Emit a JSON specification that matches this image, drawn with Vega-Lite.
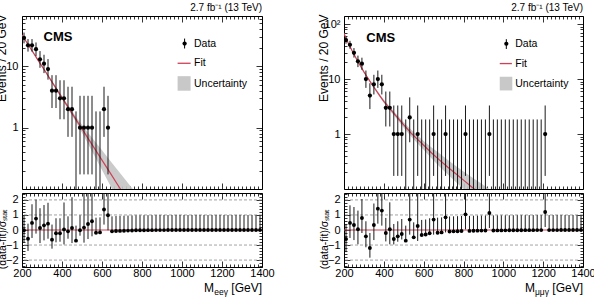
{
  "$schema": "https://vega.github.io/schema/vega-lite/v6.json",
  "padding": {"left": -6, "top": 2, "right": 0, "bottom": 0},
  "autosize": {"type": "pad"},
  "columns": 2,
  "spacing": {"row": 4, "column": 82},
  "align": "each",
  "bounds": "flush",
  "config": {
    "font": "Liberation Sans",
    "view": {"stroke": "black", "strokeWidth": 1},
    "axis": {"grid": false, "domain": false, "tickColor": "black", "tickWidth": 0.8, "labelColor": "black", "labelFontSize": 11, "titleColor": "black", "titleFontWeight": "normal", "labelFlush": false, "labelOverlap": false, "labelBound": false},
    "title": {"color": "black", "fontWeight": "normal"},
    "text": {"color": "black"}
  },
  "datasets": {
    "ptsL": [
      {"M": 210, "n": 29, "lo": 23.65, "hi": 35.44},
      {"M": 230, "n": 22, "lo": 17.35, "hi": 27.76},
      {"M": 250, "n": 22, "lo": 17.35, "hi": 27.76},
      {"M": 270, "n": 19, "lo": 14.68, "hi": 24.43},
      {"M": 290, "n": 13, "lo": 9.44, "hi": 17.69},
      {"M": 310, "n": 11, "lo": 7.74, "hi": 15.41},
      {"M": 330, "n": 9, "lo": 6.06, "hi": 13.1},
      {"M": 350, "n": 4, "lo": 2.09, "hi": 7.16},
      {"M": 370, "n": 4, "lo": 2.09, "hi": 7.16},
      {"M": 390, "n": 3, "lo": 1.37, "hi": 5.92},
      {"M": 410, "n": 3, "lo": 1.37, "hi": 5.92},
      {"M": 430, "n": 2, "lo": 0.708, "hi": 4.64},
      {"M": 450, "n": 2, "lo": 0.708, "hi": 4.64},
      {"M": 470, "n": 0, "lo": 0.001, "hi": 1.84},
      {"M": 490, "n": 1, "lo": 0.173, "hi": 3.3},
      {"M": 510, "n": 1, "lo": 0.173, "hi": 3.3},
      {"M": 530, "n": 1, "lo": 0.173, "hi": 3.3},
      {"M": 550, "n": 1, "lo": 0.173, "hi": 3.3},
      {"M": 570, "n": 0, "lo": 0.001, "hi": 1.84},
      {"M": 590, "n": 0, "lo": 0.001, "hi": 1.84},
      {"M": 610, "n": 2, "lo": 0.708, "hi": 4.64},
      {"M": 630, "n": 1, "lo": 0.173, "hi": 3.3}
    ],
    "ptsR": [
      {"M": 210, "n": 51, "lo": 43.88, "hi": 59.19},
      {"M": 230, "n": 42, "lo": 35.55, "hi": 49.53},
      {"M": 250, "n": 30, "lo": 24.56, "hi": 36.54},
      {"M": 270, "n": 21, "lo": 16.46, "hi": 26.65},
      {"M": 290, "n": 19, "lo": 14.68, "hi": 24.43},
      {"M": 310, "n": 10, "lo": 6.9, "hi": 14.27},
      {"M": 330, "n": 5, "lo": 2.84, "hi": 8.38},
      {"M": 350, "n": 8, "lo": 5.24, "hi": 11.94},
      {"M": 370, "n": 10, "lo": 6.9, "hi": 14.27},
      {"M": 390, "n": 8, "lo": 5.24, "hi": 11.94},
      {"M": 410, "n": 3, "lo": 1.37, "hi": 5.92},
      {"M": 430, "n": 3, "lo": 1.37, "hi": 5.92},
      {"M": 450, "n": 1, "lo": 0.173, "hi": 3.3},
      {"M": 470, "n": 1, "lo": 0.173, "hi": 3.3},
      {"M": 490, "n": 1, "lo": 0.173, "hi": 3.3},
      {"M": 510, "n": 0, "lo": 0.001, "hi": 1.84},
      {"M": 530, "n": 2, "lo": 0.708, "hi": 4.64},
      {"M": 550, "n": 0, "lo": 0.001, "hi": 1.84},
      {"M": 570, "n": 1, "lo": 0.173, "hi": 3.3},
      {"M": 590, "n": 0, "lo": 0.001, "hi": 1.84},
      {"M": 610, "n": 0, "lo": 0.001, "hi": 1.84},
      {"M": 630, "n": 0, "lo": 0.001, "hi": 1.84},
      {"M": 650, "n": 1, "lo": 0.173, "hi": 3.3},
      {"M": 670, "n": 0, "lo": 0.001, "hi": 1.84},
      {"M": 690, "n": 0, "lo": 0.001, "hi": 1.84},
      {"M": 710, "n": 1, "lo": 0.173, "hi": 3.3},
      {"M": 730, "n": 0, "lo": 0.001, "hi": 1.84},
      {"M": 750, "n": 0, "lo": 0.001, "hi": 1.84},
      {"M": 770, "n": 0, "lo": 0.001, "hi": 1.84},
      {"M": 790, "n": 0, "lo": 0.001, "hi": 1.84},
      {"M": 810, "n": 1, "lo": 0.173, "hi": 3.3},
      {"M": 830, "n": 0, "lo": 0.001, "hi": 1.84},
      {"M": 850, "n": 0, "lo": 0.001, "hi": 1.84},
      {"M": 870, "n": 0, "lo": 0.001, "hi": 1.84},
      {"M": 890, "n": 0, "lo": 0.001, "hi": 1.84},
      {"M": 910, "n": 0, "lo": 0.001, "hi": 1.84},
      {"M": 930, "n": 1, "lo": 0.173, "hi": 3.3},
      {"M": 950, "n": 0, "lo": 0.001, "hi": 1.84},
      {"M": 970, "n": 0, "lo": 0.001, "hi": 1.84},
      {"M": 990, "n": 0, "lo": 0.001, "hi": 1.84},
      {"M": 1010, "n": 0, "lo": 0.001, "hi": 1.84},
      {"M": 1030, "n": 0, "lo": 0.001, "hi": 1.84},
      {"M": 1050, "n": 0, "lo": 0.001, "hi": 1.84},
      {"M": 1070, "n": 0, "lo": 0.001, "hi": 1.84},
      {"M": 1090, "n": 0, "lo": 0.001, "hi": 1.84},
      {"M": 1110, "n": 0, "lo": 0.001, "hi": 1.84},
      {"M": 1130, "n": 0, "lo": 0.001, "hi": 1.84},
      {"M": 1150, "n": 0, "lo": 0.001, "hi": 1.84},
      {"M": 1170, "n": 0, "lo": 0.001, "hi": 1.84},
      {"M": 1190, "n": 0, "lo": 0.001, "hi": 1.84},
      {"M": 1210, "n": 1, "lo": 0.173, "hi": 3.3}
    ],
    "fitL": [
      {"M": 200, "f": 32.4, "lo": 31.6, "hi": 33.1},
      {"M": 240, "f": 20.2, "lo": 19.7, "hi": 20.8},
      {"M": 280, "f": 12.6, "lo": 12.2, "hi": 13.1},
      {"M": 320, "f": 7.91, "lo": 7.6, "hi": 8.22},
      {"M": 360, "f": 4.94, "lo": 4.71, "hi": 5.19},
      {"M": 400, "f": 3.09, "lo": 2.91, "hi": 3.28},
      {"M": 440, "f": 1.93, "lo": 1.79, "hi": 2.09},
      {"M": 480, "f": 1.21, "lo": 1.08, "hi": 1.36},
      {"M": 520, "f": 0.755, "lo": 0.628, "hi": 0.908},
      {"M": 560, "f": 0.472, "lo": 0.358, "hi": 0.622},
      {"M": 600, "f": 0.295, "lo": 0.204, "hi": 0.427},
      {"M": 640, "f": 0.185, "lo": 0.116, "hi": 0.292},
      {"M": 680, "f": 0.115, "lo": 0.0664, "hi": 0.2},
      {"M": 720, "f": 0.0721, "lo": 0.0378, "hi": 0.137},
      {"M": 760, "f": 0.0452, "lo": 0.0216, "hi": 0.0942}
    ],
    "fitR": [
      {"M": 200, "f": 67.6, "lo": 66.1, "hi": 69.2},
      {"M": 220, "f": 46.2, "lo": 45.1, "hi": 47.4},
      {"M": 240, "f": 33.0, "lo": 32.0, "hi": 34.0},
      {"M": 260, "f": 24.2, "lo": 23.5, "hi": 24.9},
      {"M": 280, "f": 18.0, "lo": 17.3, "hi": 18.7},
      {"M": 300, "f": 13.5, "lo": 13.0, "hi": 14.0},
      {"M": 320, "f": 10.35, "lo": 9.89, "hi": 10.8},
      {"M": 340, "f": 8.04, "lo": 7.64, "hi": 8.46},
      {"M": 360, "f": 6.31, "lo": 5.96, "hi": 6.68},
      {"M": 380, "f": 4.95, "lo": 4.64, "hi": 5.28},
      {"M": 400, "f": 3.94, "lo": 3.67, "hi": 4.22},
      {"M": 420, "f": 3.2, "lo": 2.96, "hi": 3.46},
      {"M": 440, "f": 2.63, "lo": 2.42, "hi": 2.86},
      {"M": 460, "f": 2.16, "lo": 1.97, "hi": 2.37},
      {"M": 480, "f": 1.78, "lo": 1.6, "hi": 1.97},
      {"M": 500, "f": 1.46, "lo": 1.3, "hi": 1.64},
      {"M": 520, "f": 1.22, "lo": 1.07, "hi": 1.38},
      {"M": 540, "f": 1.01, "lo": 0.875, "hi": 1.17},
      {"M": 560, "f": 0.861, "lo": 0.733, "hi": 1.01},
      {"M": 580, "f": 0.733, "lo": 0.614, "hi": 0.875},
      {"M": 600, "f": 0.624, "lo": 0.519, "hi": 0.75},
      {"M": 640, "f": 0.452, "lo": 0.359, "hi": 0.569},
      {"M": 680, "f": 0.335, "lo": 0.254, "hi": 0.442},
      {"M": 720, "f": 0.251, "lo": 0.186, "hi": 0.339},
      {"M": 760, "f": 0.191, "lo": 0.136, "hi": 0.266},
      {"M": 800, "f": 0.145, "lo": 0.1, "hi": 0.209},
      {"M": 840, "f": 0.11, "lo": 0.0724, "hi": 0.166},
      {"M": 880, "f": 0.0832, "lo": 0.0525, "hi": 0.132},
      {"M": 920, "f": 0.0631, "lo": 0.038, "hi": 0.105},
      {"M": 960, "f": 0.0479, "lo": 0.0275, "hi": 0.0832}
    ],
    "pullL": [
      {"M": 210, "p": -0.02, "plo": -0.85, "phi": 0.98},
      {"M": 230, "p": -0.58, "plo": -1.39, "phi": 0.42},
      {"M": 250, "p": 0.47, "plo": -0.53, "phi": 1.71},
      {"M": 270, "p": 0.76, "plo": -0.24, "phi": 2.02},
      {"M": 290, "p": 0.13, "plo": -0.87, "phi": 1.45},
      {"M": 310, "p": 0.31, "plo": -0.69, "phi": 1.66},
      {"M": 330, "p": 0.42, "plo": -0.58, "phi": 1.81},
      {"M": 350, "p": -0.64, "plo": -1.24, "phi": 0.36},
      {"M": 370, "p": -0.22, "plo": -0.82, "phi": 0.78},
      {"M": 390, "p": -0.22, "plo": -0.78, "phi": 0.78},
      {"M": 410, "p": 0.04, "plo": -0.96, "phi": 1.83},
      {"M": 430, "p": -0.09, "plo": -0.58, "phi": 0.91},
      {"M": 450, "p": 0.13, "plo": -0.87, "phi": 2.18},
      {"M": 470, "p": -0.71, "plo": -0.71, "phi": 0.29},
      {"M": 490, "p": -0.02, "plo": -0.38, "phi": 0.98},
      {"M": 510, "p": 0.16, "plo": -0.84, "phi": 2.94},
      {"M": 530, "p": 0.4, "plo": -0.6, "phi": 3.18},
      {"M": 550, "p": 0.58, "plo": -0.42, "phi": 3.36},
      {"M": 570, "p": -0.18, "plo": -0.18, "phi": 0.82},
      {"M": 590, "p": -0.16, "plo": -0.16, "phi": 0.84},
      {"M": 610, "p": 1.36, "plo": 0.36, "phi": 3.41},
      {"M": 630, "p": 0.98, "plo": -0.02, "phi": 3.76},
      {"M": 650, "p": -0.09, "plo": -0.09, "phi": 0.91},
      {"M": 670, "p": -0.07, "plo": -0.07, "phi": 0.93},
      {"M": 690, "p": -0.06, "plo": -0.06, "phi": 0.94},
      {"M": 710, "p": -0.05, "plo": -0.05, "phi": 0.95},
      {"M": 730, "p": -0.04, "plo": -0.04, "phi": 0.96},
      {"M": 750, "p": -0.03, "plo": -0.03, "phi": 0.97},
      {"M": 770, "p": -0.02, "plo": -0.02, "phi": 0.98},
      {"M": 790, "p": -0.02, "plo": -0.02, "phi": 0.98},
      {"M": 810, "p": -0.015, "plo": -0.015, "phi": 0.985},
      {"M": 830, "p": -0.012, "plo": -0.012, "phi": 0.988},
      {"M": 850, "p": -0.01, "plo": -0.01, "phi": 0.99},
      {"M": 870, "p": -0.008, "plo": -0.008, "phi": 0.992},
      {"M": 890, "p": -0.006, "plo": -0.006, "phi": 0.994},
      {"M": 910, "p": -0.005, "plo": -0.005, "phi": 0.995},
      {"M": 930, "p": -0.004, "plo": -0.004, "phi": 0.996},
      {"M": 950, "p": -0.003, "plo": -0.003, "phi": 0.997},
      {"M": 970, "p": -0.002, "plo": -0.002, "phi": 0.998},
      {"M": 990, "p": -0.002, "plo": -0.002, "phi": 0.998},
      {"M": 1010, "p": -0.002, "plo": -0.002, "phi": 0.998},
      {"M": 1030, "p": -0.002, "plo": -0.002, "phi": 0.998},
      {"M": 1050, "p": -0.002, "plo": -0.002, "phi": 0.998},
      {"M": 1070, "p": -0.002, "plo": -0.002, "phi": 0.998},
      {"M": 1090, "p": -0.002, "plo": -0.002, "phi": 0.998},
      {"M": 1110, "p": -0.002, "plo": -0.002, "phi": 0.998},
      {"M": 1130, "p": -0.002, "plo": -0.002, "phi": 0.998},
      {"M": 1150, "p": -0.002, "plo": -0.002, "phi": 0.998},
      {"M": 1170, "p": -0.002, "plo": -0.002, "phi": 0.998},
      {"M": 1190, "p": -0.002, "plo": -0.002, "phi": 0.998},
      {"M": 1210, "p": -0.002, "plo": -0.002, "phi": 0.998},
      {"M": 1230, "p": -0.002, "plo": -0.002, "phi": 0.998},
      {"M": 1250, "p": -0.002, "plo": -0.002, "phi": 0.998},
      {"M": 1270, "p": -0.002, "plo": -0.002, "phi": 0.998},
      {"M": 1290, "p": -0.002, "plo": -0.002, "phi": 0.998},
      {"M": 1310, "p": -0.002, "plo": -0.002, "phi": 0.998},
      {"M": 1330, "p": -0.002, "plo": -0.002, "phi": 0.998},
      {"M": 1350, "p": -0.002, "plo": -0.002, "phi": 0.998},
      {"M": 1370, "p": -0.002, "plo": -0.002, "phi": 0.998},
      {"M": 1390, "p": -0.002, "plo": -0.002, "phi": 0.998}
    ],
    "pullR": [
      {"M": 210, "p": -0.6, "plo": -1.47, "phi": 0.4},
      {"M": 230, "p": 0.47, "plo": -0.53, "phi": 1.64},
      {"M": 250, "p": 0.33, "plo": -0.67, "phi": 1.53},
      {"M": 270, "p": 0.05, "plo": -0.95, "phi": 1.29},
      {"M": 290, "p": 0.8, "plo": -0.2, "phi": 2.06},
      {"M": 310, "p": -0.42, "plo": -1.15, "phi": 0.58},
      {"M": 330, "p": -1.2, "plo": -1.84, "phi": -0.2},
      {"M": 350, "p": 0.33, "plo": -0.67, "phi": 1.76},
      {"M": 370, "p": 1.42, "plo": 0.42, "phi": 2.8},
      {"M": 390, "p": 1.29, "plo": 0.29, "phi": 2.72},
      {"M": 410, "p": -0.2, "plo": -0.76, "phi": 0.8},
      {"M": 430, "p": 0.05, "plo": -0.95, "phi": 1.84},
      {"M": 450, "p": -0.6, "plo": -0.96, "phi": 0.4},
      {"M": 470, "p": -0.42, "plo": -0.78, "phi": 0.58},
      {"M": 490, "p": -0.27, "plo": -0.63, "phi": 0.73},
      {"M": 510, "p": -0.71, "plo": -0.71, "phi": 0.29},
      {"M": 530, "p": 0.69, "plo": -0.31, "phi": 2.74},
      {"M": 550, "p": -0.49, "plo": -0.49, "phi": 0.51},
      {"M": 570, "p": 0.27, "plo": -0.73, "phi": 3.05},
      {"M": 590, "p": -0.33, "plo": -0.33, "phi": 0.67},
      {"M": 610, "p": -0.3, "plo": -0.3, "phi": 0.7},
      {"M": 630, "p": -0.22, "plo": -0.22, "phi": 0.78},
      {"M": 650, "p": 0.69, "plo": -0.31, "phi": 3.47},
      {"M": 670, "p": -0.18, "plo": -0.18, "phi": 0.82},
      {"M": 690, "p": -0.16, "plo": -0.16, "phi": 0.84},
      {"M": 710, "p": 0.84, "plo": -0.16, "phi": 3.62},
      {"M": 730, "p": -0.1, "plo": -0.1, "phi": 0.9},
      {"M": 750, "p": -0.09, "plo": -0.09, "phi": 0.91},
      {"M": 770, "p": -0.08, "plo": -0.08, "phi": 0.92},
      {"M": 790, "p": -0.07, "plo": -0.07, "phi": 0.93},
      {"M": 810, "p": 1.04, "plo": 0.04, "phi": 3.82},
      {"M": 830, "p": -0.06, "plo": -0.06, "phi": 0.94},
      {"M": 850, "p": -0.05, "plo": -0.05, "phi": 0.95},
      {"M": 870, "p": -0.045, "plo": -0.045, "phi": 0.955},
      {"M": 890, "p": -0.04, "plo": -0.04, "phi": 0.96},
      {"M": 910, "p": -0.035, "plo": -0.035, "phi": 0.965},
      {"M": 930, "p": 1.13, "plo": 0.13, "phi": 3.9},
      {"M": 950, "p": -0.03, "plo": -0.03, "phi": 0.97},
      {"M": 970, "p": -0.028, "plo": -0.028, "phi": 0.972},
      {"M": 990, "p": -0.025, "plo": -0.025, "phi": 0.975},
      {"M": 1010, "p": -0.022, "plo": -0.022, "phi": 0.978},
      {"M": 1030, "p": -0.02, "plo": -0.02, "phi": 0.98},
      {"M": 1050, "p": -0.018, "plo": -0.018, "phi": 0.982},
      {"M": 1070, "p": -0.016, "plo": -0.016, "phi": 0.984},
      {"M": 1090, "p": -0.014, "plo": -0.014, "phi": 0.986},
      {"M": 1110, "p": -0.012, "plo": -0.012, "phi": 0.988},
      {"M": 1130, "p": -0.01, "plo": -0.01, "phi": 0.99},
      {"M": 1150, "p": -0.009, "plo": -0.009, "phi": 0.991},
      {"M": 1170, "p": -0.008, "plo": -0.008, "phi": 0.992},
      {"M": 1190, "p": -0.007, "plo": -0.007, "phi": 0.993},
      {"M": 1210, "p": 1.2, "plo": 0.2, "phi": 3.98},
      {"M": 1230, "p": -0.006, "plo": -0.006, "phi": 0.994},
      {"M": 1250, "p": -0.005, "plo": -0.005, "phi": 0.995},
      {"M": 1270, "p": -0.005, "plo": -0.005, "phi": 0.995},
      {"M": 1290, "p": -0.004, "plo": -0.004, "phi": 0.996},
      {"M": 1310, "p": -0.004, "plo": -0.004, "phi": 0.996},
      {"M": 1330, "p": -0.003, "plo": -0.003, "phi": 0.997},
      {"M": 1350, "p": -0.003, "plo": -0.003, "phi": 0.997},
      {"M": 1370, "p": -0.002, "plo": -0.002, "phi": 0.998},
      {"M": 1390, "p": -0.002, "plo": -0.002, "phi": 0.998}
    ]
  },
  "concat": [
    {
      "width": 240, "height": 173,
      "title": {"text": "2.7 fb⁻¹ (13 TeV)", "anchor": "end", "frame": "group", "fontSize": 10, "fontWeight": "normal", "offset": 1},
      "resolve": {"axis": {"x": "independent", "y": "independent"}},
      "layer": [
        {"data": {"name": "fitL"}, "mark": {"type": "area", "clip": true, "color": "#c4c4c4", "opacity": 0.9},
         "encoding": {"x": {"field": "M", "type": "quantitative", "scale": {"domain": [200, 1400], "nice": false, "zero": false}, "axis": null},
                      "y": {"field": "lo", "type": "quantitative", "scale": {"type": "log", "domain": [0.1, 66], "nice": false}, "axis": null},
                      "y2": {"field": "hi"}}},
        {"data": {"name": "fitL"}, "mark": {"type": "line", "clip": true, "color": "#cf3f55", "strokeWidth": 1.2},
         "encoding": {"x": {"field": "M", "type": "quantitative", "scale": {"domain": [200, 1400], "nice": false, "zero": false}, "axis": null},
                      "y": {"field": "f", "type": "quantitative", "scale": {"type": "log", "domain": [0.1, 66], "nice": false}, "axis": null}}},
        {"data": {"name": "ptsL"}, "mark": {"type": "rule", "clip": true, "color": "#1a1a1a", "strokeWidth": 1},
         "encoding": {"x": {"field": "M", "type": "quantitative", "scale": {"domain": [200, 1400], "nice": false, "zero": false}, "axis": null},
                      "y": {"field": "lo", "type": "quantitative", "scale": {"type": "log", "domain": [0.1, 66], "nice": false}, "axis": null},
                      "y2": {"field": "hi"}}},
        {"data": {"name": "ptsL"}, "transform": [{"filter": "datum.n > 0"}], "mark": {"type": "point", "filled": true, "color": "black", "size": 18, "opacity": 1},
         "encoding": {"x": {"field": "M", "type": "quantitative", "scale": {"domain": [200, 1400], "nice": false, "zero": false}, "axis": null},
                      "y": {"field": "n", "type": "quantitative", "scale": {"type": "log", "domain": [0.1, 66], "nice": false}, "axis": null}}},
        {"data": {"values": [{}]}, "mark": {"type": "rule", "color": "black", "strokeWidth": 1},
         "encoding": {"x": {"datum": 1013, "type": "quantitative", "axis": null}, "y": {"datum": 19.5, "type": "quantitative", "axis": null}, "y2": {"datum": 28.3}}},
        {"data": {"values": [{}]}, "mark": {"type": "point", "filled": true, "color": "black", "size": 18, "opacity": 1},
         "encoding": {"x": {"datum": 1013, "type": "quantitative", "axis": null}, "y": {"datum": 23.5, "type": "quantitative", "axis": null}}},
        {"data": {"values": [{}]}, "mark": {"type": "rule", "color": "#cf3f55", "strokeWidth": 1.3},
         "encoding": {"x": {"datum": 978, "type": "quantitative", "axis": null}, "x2": {"datum": 1043}, "y": {"datum": 11.2, "type": "quantitative", "axis": null}}},
        {"data": {"values": [{}]}, "mark": {"type": "rect", "color": "#c8c8c8"},
         "encoding": {"x": {"datum": 978, "type": "quantitative", "axis": null}, "x2": {"datum": 1043}, "y": {"datum": 4.0, "type": "quantitative", "axis": null}, "y2": {"datum": 6.9}}},
        {"data": {"values": [{}]}, "mark": {"type": "text", "text": "Data", "align": "left", "baseline": "middle", "fontSize": 10.5},
         "encoding": {"x": {"datum": 1060, "type": "quantitative", "axis": null}, "y": {"datum": 23.5, "type": "quantitative", "axis": null}}},
        {"data": {"values": [{}]}, "mark": {"type": "text", "text": "Fit", "align": "left", "baseline": "middle", "fontSize": 10.5},
         "encoding": {"x": {"datum": 1060, "type": "quantitative", "axis": null}, "y": {"datum": 11.2, "type": "quantitative", "axis": null}}},
        {"data": {"values": [{}]}, "mark": {"type": "text", "text": "Uncertainty", "align": "left", "baseline": "middle", "fontSize": 10.5},
         "encoding": {"x": {"datum": 1060, "type": "quantitative", "axis": null}, "y": {"datum": 5.1, "type": "quantitative", "axis": null}}},
        {"data": {"values": [{}]}, "mark": {"type": "text", "text": "CMS", "align": "left", "baseline": "middle", "fontSize": 13, "fontWeight": "bold"},
         "encoding": {"x": {"datum": 308, "type": "quantitative", "axis": null}, "y": {"datum": 29.7, "type": "quantitative", "axis": null}}},
        {"data": {"name": "fitL"}, "mark": {"type": "point", "opacity": 0},
         "encoding": {"x": {"field": "M", "type": "quantitative", "scale": {"domain": [200, 1400], "nice": false, "zero": false}, "axis": {"orient": "bottom", "values": [200, 400, 600, 800, 1000, 1200, 1400], "labels": false, "tickSize": -6, "title": null}},
                      "y": {"field": "f", "type": "quantitative", "scale": {"type": "log", "domain": [0.1, 66], "nice": false}, "axis": {"orient": "left", "values": [1, 10], "format": "~g", "tickSize": -6, "labelPadding": 10, "title": "Events / 20 GeV", "titleFontSize": 12, "titleX": -17, "titleY": -2, "titleAlign": "right", "titleBaseline": "alphabetic", "titleAngle": -90}}}},
        {"data": {"name": "fitL"}, "mark": {"type": "point", "opacity": 0},
         "encoding": {"x": {"field": "M", "type": "quantitative", "scale": {"domain": [200, 1400], "nice": false, "zero": false}, "axis": {"orient": "bottom", "values": [220,240,260,280,300,320,340,360,380,420,440,460,480,500,520,540,560,580,620,640,660,680,700,720,740,760,780,820,840,860,880,900,920,940,960,980,1020,1040,1060,1080,1100,1120,1140,1160,1180,1220,1240,1260,1280,1300,1320,1340,1360,1380], "labels": false, "tickSize": -3, "title": null}},
                      "y": {"field": "f", "type": "quantitative", "scale": {"type": "log", "domain": [0.1, 66], "nice": false}, "axis": {"orient": "left", "values": [0.2,0.3,0.4,0.5,0.6,0.7,0.8,0.9,2,3,4,5,6,7,8,9,20,30,40,50,60], "labels": false, "tickSize": -3, "title": null}}}},
        {"data": {"name": "fitL"}, "mark": {"type": "point", "opacity": 0},
         "encoding": {"x": {"field": "M", "type": "quantitative", "scale": {"domain": [200, 1400], "nice": false, "zero": false}, "axis": {"orient": "top", "values": [200, 400, 600, 800, 1000, 1200, 1400], "labels": false, "tickSize": -6, "title": null}},
                      "y": {"field": "f", "type": "quantitative", "scale": {"type": "log", "domain": [0.1, 66], "nice": false}, "axis": {"orient": "right", "values": [1, 10], "labels": false, "tickSize": -6, "title": null}}}},
        {"data": {"name": "fitL"}, "mark": {"type": "point", "opacity": 0},
         "encoding": {"x": {"field": "M", "type": "quantitative", "scale": {"domain": [200, 1400], "nice": false, "zero": false}, "axis": {"orient": "top", "values": [220,240,260,280,300,320,340,360,380,420,440,460,480,500,520,540,560,580,620,640,660,680,700,720,740,760,780,820,840,860,880,900,920,940,960,980,1020,1040,1060,1080,1100,1120,1140,1160,1180,1220,1240,1260,1280,1300,1320,1340,1360,1380], "labels": false, "tickSize": -3, "title": null}},
                      "y": {"field": "f", "type": "quantitative", "scale": {"type": "log", "domain": [0.1, 66], "nice": false}, "axis": {"orient": "right", "values": [0.2,0.3,0.4,0.5,0.6,0.7,0.8,0.9,2,3,4,5,6,7,8,9,20,30,40,50,60], "labels": false, "tickSize": -3, "title": null}}}}
      ]
    },
    {
      "width": 239, "height": 173,
      "title": {"text": "2.7 fb⁻¹ (13 TeV)", "anchor": "end", "frame": "group", "fontSize": 10, "fontWeight": "normal", "offset": 1},
      "resolve": {"axis": {"x": "independent", "y": "independent"}},
      "layer": [
        {"data": {"name": "fitR"}, "mark": {"type": "area", "clip": true, "color": "#c4c4c4", "opacity": 0.9},
         "encoding": {"x": {"field": "M", "type": "quantitative", "scale": {"domain": [200, 1400], "nice": false, "zero": false}, "axis": null},
                      "y": {"field": "lo", "type": "quantitative", "scale": {"type": "log", "domain": [0.1, 140], "nice": false}, "axis": null},
                      "y2": {"field": "hi"}}},
        {"data": {"name": "fitR"}, "mark": {"type": "line", "clip": true, "color": "#cf3f55", "strokeWidth": 1.2},
         "encoding": {"x": {"field": "M", "type": "quantitative", "scale": {"domain": [200, 1400], "nice": false, "zero": false}, "axis": null},
                      "y": {"field": "f", "type": "quantitative", "scale": {"type": "log", "domain": [0.1, 140], "nice": false}, "axis": null}}},
        {"data": {"name": "ptsR"}, "mark": {"type": "rule", "clip": true, "color": "#1a1a1a", "strokeWidth": 1},
         "encoding": {"x": {"field": "M", "type": "quantitative", "scale": {"domain": [200, 1400], "nice": false, "zero": false}, "axis": null},
                      "y": {"field": "lo", "type": "quantitative", "scale": {"type": "log", "domain": [0.1, 140], "nice": false}, "axis": null},
                      "y2": {"field": "hi"}}},
        {"data": {"name": "ptsR"}, "transform": [{"filter": "datum.n > 0"}], "mark": {"type": "point", "filled": true, "color": "black", "size": 18, "opacity": 1},
         "encoding": {"x": {"field": "M", "type": "quantitative", "scale": {"domain": [200, 1400], "nice": false, "zero": false}, "axis": null},
                      "y": {"field": "n", "type": "quantitative", "scale": {"type": "log", "domain": [0.1, 140], "nice": false}, "axis": null}}},
        {"data": {"values": [{}]}, "mark": {"type": "rule", "color": "black", "strokeWidth": 1},
         "encoding": {"x": {"datum": 1015, "type": "quantitative", "axis": null}, "y": {"datum": 35.2, "type": "quantitative", "axis": null}, "y2": {"datum": 53}}},
        {"data": {"values": [{}]}, "mark": {"type": "point", "filled": true, "color": "black", "size": 18, "opacity": 1},
         "encoding": {"x": {"datum": 1015, "type": "quantitative", "axis": null}, "y": {"datum": 43.8, "type": "quantitative", "axis": null}}},
        {"data": {"values": [{}]}, "mark": {"type": "rule", "color": "#cf3f55", "strokeWidth": 1.3},
         "encoding": {"x": {"datum": 982, "type": "quantitative", "axis": null}, "x2": {"datum": 1043}, "y": {"datum": 19.1, "type": "quantitative", "axis": null}}},
        {"data": {"values": [{}]}, "mark": {"type": "rect", "color": "#c8c8c8"},
         "encoding": {"x": {"datum": 982, "type": "quantitative", "axis": null}, "x2": {"datum": 1045}, "y": {"datum": 6.2, "type": "quantitative", "axis": null}, "y2": {"datum": 11.0}}},
        {"data": {"values": [{}]}, "mark": {"type": "text", "text": "Data", "align": "left", "baseline": "middle", "fontSize": 10.5},
         "encoding": {"x": {"datum": 1060, "type": "quantitative", "axis": null}, "y": {"datum": 43.8, "type": "quantitative", "axis": null}}},
        {"data": {"values": [{}]}, "mark": {"type": "text", "text": "Fit", "align": "left", "baseline": "middle", "fontSize": 10.5},
         "encoding": {"x": {"datum": 1060, "type": "quantitative", "axis": null}, "y": {"datum": 19.1, "type": "quantitative", "axis": null}}},
        {"data": {"values": [{}]}, "mark": {"type": "text", "text": "Uncertainty", "align": "left", "baseline": "middle", "fontSize": 10.5},
         "encoding": {"x": {"datum": 1060, "type": "quantitative", "axis": null}, "y": {"datum": 8.24, "type": "quantitative", "axis": null}}},
        {"data": {"values": [{}]}, "mark": {"type": "text", "text": "CMS", "align": "left", "baseline": "middle", "fontSize": 13, "fontWeight": "bold"},
         "encoding": {"x": {"datum": 312, "type": "quantitative", "axis": null}, "y": {"datum": 56, "type": "quantitative", "axis": null}}},
        {"data": {"name": "fitR"}, "mark": {"type": "point", "opacity": 0},
         "encoding": {"x": {"field": "M", "type": "quantitative", "scale": {"domain": [200, 1400], "nice": false, "zero": false}, "axis": {"orient": "bottom", "values": [200, 400, 600, 800, 1000, 1200, 1400], "labels": false, "tickSize": -6, "title": null}},
                      "y": {"field": "f", "type": "quantitative", "scale": {"type": "log", "domain": [0.1, 140], "nice": false}, "axis": {"orient": "left", "values": [1, 10, 100], "format": "~g", "labelExpr": "datum.value >= 100 ? '10²' : datum.label", "tickSize": -6, "labelPadding": 10, "title": "Events / 20 GeV", "titleFontSize": 12, "titleX": -17, "titleY": -2, "titleAlign": "right", "titleBaseline": "alphabetic", "titleAngle": -90}}}},
        {"data": {"name": "fitR"}, "mark": {"type": "point", "opacity": 0},
         "encoding": {"x": {"field": "M", "type": "quantitative", "scale": {"domain": [200, 1400], "nice": false, "zero": false}, "axis": {"orient": "bottom", "values": [220,240,260,280,300,320,340,360,380,420,440,460,480,500,520,540,560,580,620,640,660,680,700,720,740,760,780,820,840,860,880,900,920,940,960,980,1020,1040,1060,1080,1100,1120,1140,1160,1180,1220,1240,1260,1280,1300,1320,1340,1360,1380], "labels": false, "tickSize": -3, "title": null}},
                      "y": {"field": "f", "type": "quantitative", "scale": {"type": "log", "domain": [0.1, 140], "nice": false}, "axis": {"orient": "left", "values": [0.2,0.3,0.4,0.5,0.6,0.7,0.8,0.9,2,3,4,5,6,7,8,9,20,30,40,50,60,70,80,90], "labels": false, "tickSize": -3, "title": null}}}},
        {"data": {"name": "fitR"}, "mark": {"type": "point", "opacity": 0},
         "encoding": {"x": {"field": "M", "type": "quantitative", "scale": {"domain": [200, 1400], "nice": false, "zero": false}, "axis": {"orient": "top", "values": [200, 400, 600, 800, 1000, 1200, 1400], "labels": false, "tickSize": -6, "title": null}},
                      "y": {"field": "f", "type": "quantitative", "scale": {"type": "log", "domain": [0.1, 140], "nice": false}, "axis": {"orient": "right", "values": [1, 10, 100], "labels": false, "tickSize": -6, "title": null}}}},
        {"data": {"name": "fitR"}, "mark": {"type": "point", "opacity": 0},
         "encoding": {"x": {"field": "M", "type": "quantitative", "scale": {"domain": [200, 1400], "nice": false, "zero": false}, "axis": {"orient": "top", "values": [220,240,260,280,300,320,340,360,380,420,440,460,480,500,520,540,560,580,620,640,660,680,700,720,740,760,780,820,840,860,880,900,920,940,960,980,1020,1040,1060,1080,1100,1120,1140,1160,1180,1220,1240,1260,1280,1300,1320,1340,1360,1380], "labels": false, "tickSize": -3, "title": null}},
                      "y": {"field": "f", "type": "quantitative", "scale": {"type": "log", "domain": [0.1, 140], "nice": false}, "axis": {"orient": "right", "values": [0.2,0.3,0.4,0.5,0.6,0.7,0.8,0.9,2,3,4,5,6,7,8,9,20,30,40,50,60,70,80,90], "labels": false, "tickSize": -3, "title": null}}}}
      ]
    },
    {
      "width": 240, "height": 74,
      "resolve": {"axis": {"x": "independent", "y": "independent"}},
      "layer": [
        {"data": {"values": [{"g": -2}, {"g": -1}, {"g": 1}, {"g": 2}]}, "mark": {"type": "rule", "color": "#8c8c8c", "strokeDash": [3, 2], "strokeWidth": 0.8},
         "encoding": {"y": {"field": "g", "type": "quantitative", "scale": {"domain": [-2.46, 2.46], "nice": false, "zero": false}, "axis": null}}},
        {"data": {"values": [{}]}, "mark": {"type": "rule", "color": "#cf3f55", "strokeWidth": 1},
         "encoding": {"y": {"datum": 0, "type": "quantitative", "scale": {"domain": [-2.46, 2.46], "nice": false, "zero": false}, "axis": null}}},
        {"data": {"name": "pullL"}, "mark": {"type": "rule", "clip": true, "color": "#1a1a1a", "strokeWidth": 1},
         "encoding": {"x": {"field": "M", "type": "quantitative", "scale": {"domain": [200, 1400], "nice": false, "zero": false}, "axis": null},
                      "y": {"field": "plo", "type": "quantitative", "scale": {"domain": [-2.46, 2.46], "nice": false, "zero": false}, "axis": null},
                      "y2": {"field": "phi"}}},
        {"data": {"name": "pullL"}, "mark": {"type": "point", "filled": true, "color": "black", "size": 15, "opacity": 1},
         "encoding": {"x": {"field": "M", "type": "quantitative", "scale": {"domain": [200, 1400], "nice": false, "zero": false}, "axis": null},
                      "y": {"field": "p", "type": "quantitative", "scale": {"domain": [-2.46, 2.46], "nice": false, "zero": false}, "axis": null}}},
        {"data": {"values": [{}]}, "mark": {"type": "text", "text": "[GeV]", "align": "right", "baseline": "alphabetic", "fontSize": 12, "dy": 25},
         "encoding": {"x": {"datum": 1400, "type": "quantitative", "axis": null}, "y": {"datum": -2.46, "type": "quantitative", "axis": null}}},
        {"data": {"values": [{}]}, "mark": {"type": "text", "text": "eeγ", "align": "right", "baseline": "alphabetic", "fontSize": 8.5, "dx": -34, "dy": 28},
         "encoding": {"x": {"datum": 1400, "type": "quantitative", "axis": null}, "y": {"datum": -2.46, "type": "quantitative", "axis": null}}},
        {"data": {"values": [{}]}, "mark": {"type": "text", "text": "M", "align": "right", "baseline": "alphabetic", "fontSize": 12, "dx": -48, "dy": 25},
         "encoding": {"x": {"datum": 1400, "type": "quantitative", "axis": null}, "y": {"datum": -2.46, "type": "quantitative", "axis": null}}},
        {"data": {"name": "pullL"}, "mark": {"type": "point", "opacity": 0},
         "encoding": {"x": {"field": "M", "type": "quantitative", "scale": {"domain": [200, 1400], "nice": false, "zero": false}, "axis": {"orient": "bottom", "values": [200, 400, 600, 800, 1000, 1200, 1400], "format": "d", "tickSize": -6, "labelPadding": 6, "title": null}},
                      "y": {"field": "p", "type": "quantitative", "scale": {"domain": [-2.46, 2.46], "nice": false, "zero": false}, "axis": {"orient": "left", "values": [-2, -1, 0, 1, 2], "format": "d", "tickSize": -6, "labelPadding": 10, "title": "(data-fit)/σₛₜₐₜ", "titleFontSize": 10.5, "titleX": -17, "titleY": 46, "titleAlign": "center", "titleBaseline": "alphabetic", "titleAngle": -90}}}},
        {"data": {"name": "pullL"}, "mark": {"type": "point", "opacity": 0},
         "encoding": {"x": {"field": "M", "type": "quantitative", "scale": {"domain": [200, 1400], "nice": false, "zero": false}, "axis": {"orient": "bottom", "values": [220,240,260,280,300,320,340,360,380,420,440,460,480,500,520,540,560,580,620,640,660,680,700,720,740,760,780,820,840,860,880,900,920,940,960,980,1020,1040,1060,1080,1100,1120,1140,1160,1180,1220,1240,1260,1280,1300,1320,1340,1360,1380], "labels": false, "tickSize": -3, "title": null}},
                      "y": {"field": "p", "type": "quantitative", "scale": {"domain": [-2.46, 2.46], "nice": false, "zero": false}, "axis": {"orient": "left", "values": [-2.4,-2.2,-1.8,-1.6,-1.4,-1.2,-0.8,-0.6,-0.4,-0.2,0.2,0.4,0.6,0.8,1.2,1.4,1.6,1.8,2.2,2.4], "labels": false, "tickSize": -3, "title": null}}}},
        {"data": {"name": "pullL"}, "mark": {"type": "point", "opacity": 0},
         "encoding": {"x": {"field": "M", "type": "quantitative", "scale": {"domain": [200, 1400], "nice": false, "zero": false}, "axis": {"orient": "top", "values": [200, 400, 600, 800, 1000, 1200, 1400], "labels": false, "tickSize": -6, "title": null}},
                      "y": {"field": "p", "type": "quantitative", "scale": {"domain": [-2.46, 2.46], "nice": false, "zero": false}, "axis": {"orient": "right", "values": [-2, -1, 0, 1, 2], "labels": false, "tickSize": -6, "title": null}}}},
        {"data": {"name": "pullL"}, "mark": {"type": "point", "opacity": 0},
         "encoding": {"x": {"field": "M", "type": "quantitative", "scale": {"domain": [200, 1400], "nice": false, "zero": false}, "axis": {"orient": "top", "values": [220,240,260,280,300,320,340,360,380,420,440,460,480,500,520,540,560,580,620,640,660,680,700,720,740,760,780,820,840,860,880,900,920,940,960,980,1020,1040,1060,1080,1100,1120,1140,1160,1180,1220,1240,1260,1280,1300,1320,1340,1360,1380], "labels": false, "tickSize": -3, "title": null}},
                      "y": {"field": "p", "type": "quantitative", "scale": {"domain": [-2.46, 2.46], "nice": false, "zero": false}, "axis": {"orient": "right", "values": [-2.4,-2.2,-1.8,-1.6,-1.4,-1.2,-0.8,-0.6,-0.4,-0.2,0.2,0.4,0.6,0.8,1.2,1.4,1.6,1.8,2.2,2.4], "labels": false, "tickSize": -3, "title": null}}}}
      ]
    },
    {
      "width": 239, "height": 74,
      "resolve": {"axis": {"x": "independent", "y": "independent"}},
      "layer": [
        {"data": {"values": [{"g": -2}, {"g": -1}, {"g": 1}, {"g": 2}]}, "mark": {"type": "rule", "color": "#8c8c8c", "strokeDash": [3, 2], "strokeWidth": 0.8},
         "encoding": {"y": {"field": "g", "type": "quantitative", "scale": {"domain": [-2.46, 2.46], "nice": false, "zero": false}, "axis": null}}},
        {"data": {"values": [{}]}, "mark": {"type": "rule", "color": "#cf3f55", "strokeWidth": 1},
         "encoding": {"y": {"datum": 0, "type": "quantitative", "scale": {"domain": [-2.46, 2.46], "nice": false, "zero": false}, "axis": null}}},
        {"data": {"name": "pullR"}, "mark": {"type": "rule", "clip": true, "color": "#1a1a1a", "strokeWidth": 1},
         "encoding": {"x": {"field": "M", "type": "quantitative", "scale": {"domain": [200, 1400], "nice": false, "zero": false}, "axis": null},
                      "y": {"field": "plo", "type": "quantitative", "scale": {"domain": [-2.46, 2.46], "nice": false, "zero": false}, "axis": null},
                      "y2": {"field": "phi"}}},
        {"data": {"name": "pullR"}, "mark": {"type": "point", "filled": true, "color": "black", "size": 15, "opacity": 1},
         "encoding": {"x": {"field": "M", "type": "quantitative", "scale": {"domain": [200, 1400], "nice": false, "zero": false}, "axis": null},
                      "y": {"field": "p", "type": "quantitative", "scale": {"domain": [-2.46, 2.46], "nice": false, "zero": false}, "axis": null}}},
        {"data": {"values": [{}]}, "mark": {"type": "text", "text": "[GeV]", "align": "right", "baseline": "alphabetic", "fontSize": 12, "dy": 25},
         "encoding": {"x": {"datum": 1400, "type": "quantitative", "axis": null}, "y": {"datum": -2.46, "type": "quantitative", "axis": null}}},
        {"data": {"values": [{}]}, "mark": {"type": "text", "text": "μμγ", "align": "right", "baseline": "alphabetic", "fontSize": 8.5, "dx": -34, "dy": 28},
         "encoding": {"x": {"datum": 1400, "type": "quantitative", "axis": null}, "y": {"datum": -2.46, "type": "quantitative", "axis": null}}},
        {"data": {"values": [{}]}, "mark": {"type": "text", "text": "M", "align": "right", "baseline": "alphabetic", "fontSize": 12, "dx": -48, "dy": 25},
         "encoding": {"x": {"datum": 1400, "type": "quantitative", "axis": null}, "y": {"datum": -2.46, "type": "quantitative", "axis": null}}},
        {"data": {"name": "pullR"}, "mark": {"type": "point", "opacity": 0},
         "encoding": {"x": {"field": "M", "type": "quantitative", "scale": {"domain": [200, 1400], "nice": false, "zero": false}, "axis": {"orient": "bottom", "values": [200, 400, 600, 800, 1000, 1200, 1400], "format": "d", "tickSize": -6, "labelPadding": 6, "title": null}},
                      "y": {"field": "p", "type": "quantitative", "scale": {"domain": [-2.46, 2.46], "nice": false, "zero": false}, "axis": {"orient": "left", "values": [-2, -1, 0, 1, 2], "format": "d", "tickSize": -6, "labelPadding": 10, "title": "(data-fit)/σₛₜₐₜ", "titleFontSize": 10.5, "titleX": -17, "titleY": 46, "titleAlign": "center", "titleBaseline": "alphabetic", "titleAngle": -90}}}},
        {"data": {"name": "pullR"}, "mark": {"type": "point", "opacity": 0},
         "encoding": {"x": {"field": "M", "type": "quantitative", "scale": {"domain": [200, 1400], "nice": false, "zero": false}, "axis": {"orient": "bottom", "values": [220,240,260,280,300,320,340,360,380,420,440,460,480,500,520,540,560,580,620,640,660,680,700,720,740,760,780,820,840,860,880,900,920,940,960,980,1020,1040,1060,1080,1100,1120,1140,1160,1180,1220,1240,1260,1280,1300,1320,1340,1360,1380], "labels": false, "tickSize": -3, "title": null}},
                      "y": {"field": "p", "type": "quantitative", "scale": {"domain": [-2.46, 2.46], "nice": false, "zero": false}, "axis": {"orient": "left", "values": [-2.4,-2.2,-1.8,-1.6,-1.4,-1.2,-0.8,-0.6,-0.4,-0.2,0.2,0.4,0.6,0.8,1.2,1.4,1.6,1.8,2.2,2.4], "labels": false, "tickSize": -3, "title": null}}}},
        {"data": {"name": "pullR"}, "mark": {"type": "point", "opacity": 0},
         "encoding": {"x": {"field": "M", "type": "quantitative", "scale": {"domain": [200, 1400], "nice": false, "zero": false}, "axis": {"orient": "top", "values": [200, 400, 600, 800, 1000, 1200, 1400], "labels": false, "tickSize": -6, "title": null}},
                      "y": {"field": "p", "type": "quantitative", "scale": {"domain": [-2.46, 2.46], "nice": false, "zero": false}, "axis": {"orient": "right", "values": [-2, -1, 0, 1, 2], "labels": false, "tickSize": -6, "title": null}}}},
        {"data": {"name": "pullR"}, "mark": {"type": "point", "opacity": 0},
         "encoding": {"x": {"field": "M", "type": "quantitative", "scale": {"domain": [200, 1400], "nice": false, "zero": false}, "axis": {"orient": "top", "values": [220,240,260,280,300,320,340,360,380,420,440,460,480,500,520,540,560,580,620,640,660,680,700,720,740,760,780,820,840,860,880,900,920,940,960,980,1020,1040,1060,1080,1100,1120,1140,1160,1180,1220,1240,1260,1280,1300,1320,1340,1360,1380], "labels": false, "tickSize": -3, "title": null}},
                      "y": {"field": "p", "type": "quantitative", "scale": {"domain": [-2.46, 2.46], "nice": false, "zero": false}, "axis": {"orient": "right", "values": [-2.4,-2.2,-1.8,-1.6,-1.4,-1.2,-0.8,-0.6,-0.4,-0.2,0.2,0.4,0.6,0.8,1.2,1.4,1.6,1.8,2.2,2.4], "labels": false, "tickSize": -3, "title": null}}}}
      ]
    }
  ]
}
